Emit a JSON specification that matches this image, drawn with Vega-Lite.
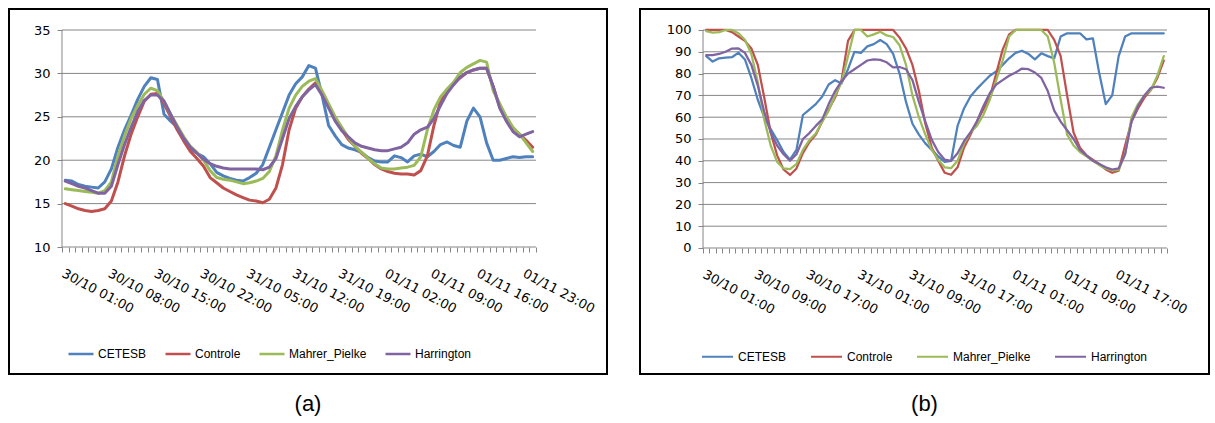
{
  "$schema": "https://vega.github.io/schema/vega-lite/v6.json",
  "background": "white",
  "padding": {"left": 8, "top": 8, "right": 0, "bottom": 0},
  "spacing": 31,
  "config": {
    "axis": {"labelOverlap": false, "labelFlush": false, "domain": false, "grid": false, "tickColor": "#868686", "tickSize": 5, "labelColor": "black", "labelFont": "DejaVu Sans", "title": null}
  },
  "datasets": {
    "tempA": [
      {"h":0,"CETESB":17.7,"Controle":15.0,"Mahrer_Pielke":16.7,"Harrington":17.6},
      {"h":1,"CETESB":17.6,"Controle":14.7,"Mahrer_Pielke":16.6,"Harrington":17.3},
      {"h":2,"CETESB":17.2,"Controle":14.4,"Mahrer_Pielke":16.5,"Harrington":17.0},
      {"h":3,"CETESB":17.0,"Controle":14.2,"Mahrer_Pielke":16.4,"Harrington":16.8},
      {"h":4,"CETESB":16.9,"Controle":14.1,"Mahrer_Pielke":16.3,"Harrington":16.5},
      {"h":5,"CETESB":16.8,"Controle":14.2,"Mahrer_Pielke":16.2,"Harrington":16.2},
      {"h":6,"CETESB":17.5,"Controle":14.4,"Mahrer_Pielke":16.5,"Harrington":16.2},
      {"h":7,"CETESB":19.0,"Controle":15.3,"Mahrer_Pielke":17.5,"Harrington":17.0},
      {"h":8,"CETESB":21.5,"Controle":17.5,"Mahrer_Pielke":20.5,"Harrington":19.5},
      {"h":9,"CETESB":23.5,"Controle":20.5,"Mahrer_Pielke":22.8,"Harrington":21.8},
      {"h":10,"CETESB":25.2,"Controle":23.0,"Mahrer_Pielke":24.8,"Harrington":23.8},
      {"h":11,"CETESB":27.0,"Controle":25.0,"Mahrer_Pielke":26.3,"Harrington":25.6},
      {"h":12,"CETESB":28.5,"Controle":26.8,"Mahrer_Pielke":27.6,"Harrington":26.9},
      {"h":13,"CETESB":29.5,"Controle":27.6,"Mahrer_Pielke":28.3,"Harrington":27.5},
      {"h":14,"CETESB":29.3,"Controle":27.7,"Mahrer_Pielke":28.0,"Harrington":27.5},
      {"h":15,"CETESB":25.3,"Controle":26.5,"Mahrer_Pielke":26.8,"Harrington":26.8},
      {"h":16,"CETESB":24.5,"Controle":25.0,"Mahrer_Pielke":25.3,"Harrington":25.3},
      {"h":17,"CETESB":23.8,"Controle":23.5,"Mahrer_Pielke":24.0,"Harrington":23.8},
      {"h":18,"CETESB":22.5,"Controle":22.2,"Mahrer_Pielke":22.7,"Harrington":22.5},
      {"h":19,"CETESB":21.3,"Controle":21.0,"Mahrer_Pielke":21.6,"Harrington":21.5},
      {"h":20,"CETESB":20.8,"Controle":20.2,"Mahrer_Pielke":20.9,"Harrington":20.8},
      {"h":21,"CETESB":20.4,"Controle":19.3,"Mahrer_Pielke":20.0,"Harrington":20.1},
      {"h":22,"CETESB":19.6,"Controle":18.0,"Mahrer_Pielke":18.8,"Harrington":19.6},
      {"h":23,"CETESB":18.6,"Controle":17.4,"Mahrer_Pielke":18.0,"Harrington":19.3},
      {"h":24,"CETESB":18.2,"Controle":16.8,"Mahrer_Pielke":17.8,"Harrington":19.1},
      {"h":25,"CETESB":17.9,"Controle":16.4,"Mahrer_Pielke":17.7,"Harrington":19.0},
      {"h":26,"CETESB":17.7,"Controle":16.0,"Mahrer_Pielke":17.5,"Harrington":19.0},
      {"h":27,"CETESB":17.6,"Controle":15.7,"Mahrer_Pielke":17.3,"Harrington":19.0},
      {"h":28,"CETESB":18.0,"Controle":15.4,"Mahrer_Pielke":17.4,"Harrington":19.0},
      {"h":29,"CETESB":18.5,"Controle":15.3,"Mahrer_Pielke":17.6,"Harrington":19.0},
      {"h":30,"CETESB":19.5,"Controle":15.1,"Mahrer_Pielke":17.9,"Harrington":18.9},
      {"h":31,"CETESB":21.5,"Controle":15.5,"Mahrer_Pielke":18.7,"Harrington":19.2},
      {"h":32,"CETESB":23.5,"Controle":16.8,"Mahrer_Pielke":20.5,"Harrington":20.2},
      {"h":33,"CETESB":25.5,"Controle":19.5,"Mahrer_Pielke":23.5,"Harrington":22.5},
      {"h":34,"CETESB":27.5,"Controle":23.5,"Mahrer_Pielke":26.0,"Harrington":24.8},
      {"h":35,"CETESB":28.8,"Controle":26.0,"Mahrer_Pielke":27.5,"Harrington":26.2},
      {"h":36,"CETESB":29.6,"Controle":27.3,"Mahrer_Pielke":28.5,"Harrington":27.3},
      {"h":37,"CETESB":30.9,"Controle":28.2,"Mahrer_Pielke":29.1,"Harrington":28.1},
      {"h":38,"CETESB":30.6,"Controle":28.9,"Mahrer_Pielke":29.4,"Harrington":28.7},
      {"h":39,"CETESB":27.5,"Controle":27.8,"Mahrer_Pielke":28.0,"Harrington":27.5},
      {"h":40,"CETESB":24.0,"Controle":26.3,"Mahrer_Pielke":26.5,"Harrington":26.0},
      {"h":41,"CETESB":22.8,"Controle":24.8,"Mahrer_Pielke":25.0,"Harrington":24.5},
      {"h":42,"CETESB":21.8,"Controle":23.5,"Mahrer_Pielke":23.8,"Harrington":23.4},
      {"h":43,"CETESB":21.4,"Controle":22.4,"Mahrer_Pielke":22.6,"Harrington":22.7},
      {"h":44,"CETESB":21.2,"Controle":21.6,"Mahrer_Pielke":21.6,"Harrington":22.0},
      {"h":45,"CETESB":20.9,"Controle":20.8,"Mahrer_Pielke":20.9,"Harrington":21.6},
      {"h":46,"CETESB":20.3,"Controle":20.2,"Mahrer_Pielke":20.2,"Harrington":21.4},
      {"h":47,"CETESB":19.9,"Controle":19.5,"Mahrer_Pielke":19.6,"Harrington":21.2},
      {"h":48,"CETESB":19.8,"Controle":19.0,"Mahrer_Pielke":19.1,"Harrington":21.1},
      {"h":49,"CETESB":19.8,"Controle":18.7,"Mahrer_Pielke":19.0,"Harrington":21.1},
      {"h":50,"CETESB":20.5,"Controle":18.5,"Mahrer_Pielke":19.0,"Harrington":21.3},
      {"h":51,"CETESB":20.3,"Controle":18.4,"Mahrer_Pielke":19.1,"Harrington":21.5},
      {"h":52,"CETESB":19.8,"Controle":18.4,"Mahrer_Pielke":19.2,"Harrington":22.0},
      {"h":53,"CETESB":20.5,"Controle":18.3,"Mahrer_Pielke":19.4,"Harrington":23.0},
      {"h":54,"CETESB":20.7,"Controle":18.8,"Mahrer_Pielke":20.4,"Harrington":23.5},
      {"h":55,"CETESB":20.4,"Controle":20.5,"Mahrer_Pielke":23.5,"Harrington":23.8},
      {"h":56,"CETESB":21.0,"Controle":24.0,"Mahrer_Pielke":25.8,"Harrington":24.8},
      {"h":57,"CETESB":21.8,"Controle":26.8,"Mahrer_Pielke":27.3,"Harrington":26.3},
      {"h":58,"CETESB":22.1,"Controle":28.0,"Mahrer_Pielke":28.2,"Harrington":27.7},
      {"h":59,"CETESB":21.7,"Controle":28.8,"Mahrer_Pielke":29.0,"Harrington":28.7},
      {"h":60,"CETESB":21.5,"Controle":29.5,"Mahrer_Pielke":30.1,"Harrington":29.6},
      {"h":61,"CETESB":24.5,"Controle":30.1,"Mahrer_Pielke":30.7,"Harrington":30.1},
      {"h":62,"CETESB":26.0,"Controle":30.4,"Mahrer_Pielke":31.1,"Harrington":30.4},
      {"h":63,"CETESB":25.0,"Controle":30.6,"Mahrer_Pielke":31.5,"Harrington":30.6},
      {"h":64,"CETESB":22.0,"Controle":30.6,"Mahrer_Pielke":31.3,"Harrington":30.6},
      {"h":65,"CETESB":20.0,"Controle":28.5,"Mahrer_Pielke":28.0,"Harrington":28.5},
      {"h":66,"CETESB":20.0,"Controle":26.1,"Mahrer_Pielke":26.5,"Harrington":26.0},
      {"h":67,"CETESB":20.2,"Controle":24.6,"Mahrer_Pielke":25.0,"Harrington":24.5},
      {"h":68,"CETESB":20.4,"Controle":23.7,"Mahrer_Pielke":23.8,"Harrington":23.3},
      {"h":69,"CETESB":20.3,"Controle":23.0,"Mahrer_Pielke":23.0,"Harrington":22.7},
      {"h":70,"CETESB":20.4,"Controle":22.3,"Mahrer_Pielke":22.0,"Harrington":23.0},
      {"h":71,"CETESB":20.4,"Controle":21.5,"Mahrer_Pielke":21.0,"Harrington":23.3}
    ],
    "rhB": [
      {"h":0,"CETESB":88,"Controle":100,"Mahrer_Pielke":99.5,"Harrington":88.5},
      {"h":1,"CETESB":85.5,"Controle":100,"Mahrer_Pielke":98.8,"Harrington":88.5},
      {"h":2,"CETESB":87,"Controle":100,"Mahrer_Pielke":99,"Harrington":89},
      {"h":3,"CETESB":87.3,"Controle":100,"Mahrer_Pielke":100,"Harrington":90},
      {"h":4,"CETESB":87.5,"Controle":99,"Mahrer_Pielke":100,"Harrington":91.5},
      {"h":5,"CETESB":89.6,"Controle":97,"Mahrer_Pielke":98.5,"Harrington":91.6},
      {"h":6,"CETESB":86.5,"Controle":95,"Mahrer_Pielke":95.5,"Harrington":89.5},
      {"h":7,"CETESB":78,"Controle":91.5,"Mahrer_Pielke":89,"Harrington":84},
      {"h":8,"CETESB":68,"Controle":84,"Mahrer_Pielke":76,"Harrington":74.5},
      {"h":9,"CETESB":60,"Controle":69,"Mahrer_Pielke":59,"Harrington":62.5},
      {"h":10,"CETESB":54.5,"Controle":53,"Mahrer_Pielke":47,"Harrington":53},
      {"h":11,"CETESB":49.5,"Controle":42.5,"Mahrer_Pielke":39.5,"Harrington":47},
      {"h":12,"CETESB":44,"Controle":36,"Mahrer_Pielke":36.5,"Harrington":43},
      {"h":13,"CETESB":40.5,"Controle":33.5,"Mahrer_Pielke":36.2,"Harrington":40},
      {"h":14,"CETESB":45,"Controle":36.5,"Mahrer_Pielke":38.5,"Harrington":43},
      {"h":15,"CETESB":61,"Controle":43.5,"Mahrer_Pielke":45,"Harrington":50},
      {"h":16,"CETESB":63.5,"Controle":48.5,"Mahrer_Pielke":49.5,"Harrington":52.7},
      {"h":17,"CETESB":66,"Controle":52,"Mahrer_Pielke":52.5,"Harrington":56},
      {"h":18,"CETESB":69.5,"Controle":58,"Mahrer_Pielke":58,"Harrington":59},
      {"h":19,"CETESB":75,"Controle":63.5,"Mahrer_Pielke":63,"Harrington":66},
      {"h":20,"CETESB":77,"Controle":69,"Mahrer_Pielke":70,"Harrington":72},
      {"h":21,"CETESB":75.5,"Controle":77,"Mahrer_Pielke":76,"Harrington":76.5},
      {"h":22,"CETESB":82,"Controle":95,"Mahrer_Pielke":88,"Harrington":80},
      {"h":23,"CETESB":90,"Controle":100,"Mahrer_Pielke":100,"Harrington":82},
      {"h":24,"CETESB":89.5,"Controle":100,"Mahrer_Pielke":100,"Harrington":84},
      {"h":25,"CETESB":92.5,"Controle":100,"Mahrer_Pielke":97,"Harrington":86},
      {"h":26,"CETESB":93.5,"Controle":100,"Mahrer_Pielke":98,"Harrington":86.5},
      {"h":27,"CETESB":95.4,"Controle":100,"Mahrer_Pielke":99.2,"Harrington":86.3},
      {"h":28,"CETESB":93.5,"Controle":100,"Mahrer_Pielke":97.5,"Harrington":85.2},
      {"h":29,"CETESB":89,"Controle":100,"Mahrer_Pielke":96.8,"Harrington":82.8},
      {"h":30,"CETESB":80,"Controle":96.5,"Mahrer_Pielke":93,"Harrington":83},
      {"h":31,"CETESB":67,"Controle":91.5,"Mahrer_Pielke":84,"Harrington":82},
      {"h":32,"CETESB":57,"Controle":84,"Mahrer_Pielke":70,"Harrington":77},
      {"h":33,"CETESB":52,"Controle":72,"Mahrer_Pielke":60,"Harrington":67},
      {"h":34,"CETESB":48,"Controle":57,"Mahrer_Pielke":52,"Harrington":58},
      {"h":35,"CETESB":45,"Controle":46,"Mahrer_Pielke":45,"Harrington":49.6},
      {"h":36,"CETESB":42,"Controle":40,"Mahrer_Pielke":40.5,"Harrington":44},
      {"h":37,"CETESB":39.5,"Controle":34.5,"Mahrer_Pielke":37,"Harrington":40.5},
      {"h":38,"CETESB":40,"Controle":33.6,"Mahrer_Pielke":36.6,"Harrington":40},
      {"h":39,"CETESB":56,"Controle":37,"Mahrer_Pielke":40,"Harrington":43.5},
      {"h":40,"CETESB":64,"Controle":46,"Mahrer_Pielke":48,"Harrington":49},
      {"h":41,"CETESB":69.5,"Controle":52,"Mahrer_Pielke":53,"Harrington":53},
      {"h":42,"CETESB":73,"Controle":58,"Mahrer_Pielke":56,"Harrington":58},
      {"h":43,"CETESB":76,"Controle":63.5,"Mahrer_Pielke":61,"Harrington":65},
      {"h":44,"CETESB":79,"Controle":69,"Mahrer_Pielke":68,"Harrington":71},
      {"h":45,"CETESB":81,"Controle":80,"Mahrer_Pielke":77,"Harrington":75},
      {"h":46,"CETESB":84,"Controle":91,"Mahrer_Pielke":86,"Harrington":77},
      {"h":47,"CETESB":87,"Controle":98,"Mahrer_Pielke":97,"Harrington":79},
      {"h":48,"CETESB":89.5,"Controle":100,"Mahrer_Pielke":100,"Harrington":80.5},
      {"h":49,"CETESB":90.5,"Controle":100,"Mahrer_Pielke":100,"Harrington":82.3},
      {"h":50,"CETESB":89,"Controle":100,"Mahrer_Pielke":100,"Harrington":82},
      {"h":51,"CETESB":86.5,"Controle":100,"Mahrer_Pielke":100,"Harrington":80.5},
      {"h":52,"CETESB":89.3,"Controle":100,"Mahrer_Pielke":100,"Harrington":78},
      {"h":53,"CETESB":88,"Controle":100,"Mahrer_Pielke":97,"Harrington":72},
      {"h":54,"CETESB":87,"Controle":95.5,"Mahrer_Pielke":85,"Harrington":63},
      {"h":55,"CETESB":97,"Controle":88,"Mahrer_Pielke":68,"Harrington":58},
      {"h":56,"CETESB":98.5,"Controle":70,"Mahrer_Pielke":52,"Harrington":54},
      {"h":57,"CETESB":98.5,"Controle":53,"Mahrer_Pielke":47,"Harrington":50},
      {"h":58,"CETESB":98.5,"Controle":46,"Mahrer_Pielke":44,"Harrington":45},
      {"h":59,"CETESB":95.7,"Controle":42.5,"Mahrer_Pielke":42,"Harrington":42.5},
      {"h":60,"CETESB":96.2,"Controle":40.5,"Mahrer_Pielke":40,"Harrington":40},
      {"h":61,"CETESB":80,"Controle":38.5,"Mahrer_Pielke":38,"Harrington":38.5},
      {"h":62,"CETESB":66,"Controle":36,"Mahrer_Pielke":36.5,"Harrington":37},
      {"h":63,"CETESB":70,"Controle":34.5,"Mahrer_Pielke":35.6,"Harrington":36},
      {"h":64,"CETESB":88,"Controle":35.5,"Mahrer_Pielke":35.8,"Harrington":36.5},
      {"h":65,"CETESB":97,"Controle":47,"Mahrer_Pielke":43,"Harrington":43},
      {"h":66,"CETESB":98.5,"Controle":58,"Mahrer_Pielke":60,"Harrington":58},
      {"h":67,"CETESB":98.5,"Controle":64,"Mahrer_Pielke":66,"Harrington":65},
      {"h":68,"CETESB":98.5,"Controle":69,"Mahrer_Pielke":70,"Harrington":70},
      {"h":69,"CETESB":98.5,"Controle":72.5,"Mahrer_Pielke":72.5,"Harrington":73.5},
      {"h":70,"CETESB":98.5,"Controle":78,"Mahrer_Pielke":79,"Harrington":74},
      {"h":71,"CETESB":98.5,"Controle":86,"Mahrer_Pielke":88,"Harrington":73.5}
    ],
    "gridA": [{"v":10},{"v":15},{"v":20},{"v":25},{"v":30},{"v":35}],
    "gridB": [{"v":0},{"v":10},{"v":20},{"v":30},{"v":40},{"v":50},{"v":60},{"v":70},{"v":80},{"v":90},{"v":100}],
    "one": [{"k":1}]
  },
  "hconcat": [
    {
      "width": 598,
      "height": 365,
      "view": {"stroke": "black", "strokeWidth": 2},
      "title": {"text": "(a)", "orient": "bottom", "anchor": "middle", "fontSize": 22, "font": "Liberation Sans", "fontWeight": "normal", "color": "black", "offset": 20},
      "layer": [
        {
          "data": {"name": "gridA"},
          "mark": {"type": "rule", "color": "#868686", "strokeWidth": 1},
          "encoding": {
            "y": {"field": "v", "type": "quantitative", "scale": {"domain": [-4.63, 37.42], "nice": false, "zero": false},
              "axis": {"values": [10,15,20,25,30,35], "offset": -53, "labelPadding": 7, "labelFontSize": 13, "labelOverlap": false}},
            "x": {"datum": -0.5, "type": "quantitative", "scale": {"domain": [-8.551, 82.29], "nice": false, "zero": false},
              "axis": {"values": [-0.5,0.5,1.5,2.5,3.5,4.5,5.5,6.5,7.5,8.5,9.5,10.5,11.5,12.5,13.5,14.5,15.5,16.5,17.5,18.5,19.5,20.5,21.5,22.5,23.5,24.5,25.5,26.5,27.5,28.5,29.5,30.5,31.5,32.5,33.5,34.5,35.5,36.5,37.5,38.5,39.5,40.5,41.5,42.5,43.5,44.5,45.5,46.5,47.5,48.5,49.5,50.5,51.5,52.5,53.5,54.5,55.5,56.5,57.5,58.5,59.5,60.5,61.5,62.5,63.5,64.5,65.5,66.5,67.5,68.5,69.5,70.5,71.5,0,7,14,21,28,35,42,49,56,63,70],
                "offset": -127,
                "tickOpacity": {"condition": {"test": "datum.value % 1 != 0", "value": 1}, "value": 0},
                "labelExpr": "datum.value % 1 == 0 ? timeFormat(datetime(2011, 9, 30, 1 + datum.value, 0), '%d/%m %H:%M') : ''",
                "labelAngle": 28, "labelAlign": "left", "labelBaseline": "top", "labelPadding": 15,
                "labelOverlap": false, "labelFontSize": 13}},
            "x2": {"datum": 71.5}
          }
        },
        {
          "data": {"name": "one"},
          "mark": {"type": "rule", "color": "#868686", "strokeWidth": 1},
          "encoding": {
            "x": {"datum": -0.5, "type": "quantitative", "scale": {"domain": [-8.551, 82.29], "nice": false, "zero": false},
              "axis": {"values": [-0.5,0.5,1.5,2.5,3.5,4.5,5.5,6.5,7.5,8.5,9.5,10.5,11.5,12.5,13.5,14.5,15.5,16.5,17.5,18.5,19.5,20.5,21.5,22.5,23.5,24.5,25.5,26.5,27.5,28.5,29.5,30.5,31.5,32.5,33.5,34.5,35.5,36.5,37.5,38.5,39.5,40.5,41.5,42.5,43.5,44.5,45.5,46.5,47.5,48.5,49.5,50.5,51.5,52.5,53.5,54.5,55.5,56.5,57.5,58.5,59.5,60.5,61.5,62.5,63.5,64.5,65.5,66.5,67.5,68.5,69.5,70.5,71.5,0,7,14,21,28,35,42,49,56,63,70],
                "offset": -127,
                "tickOpacity": {"condition": {"test": "datum.value % 1 != 0", "value": 1}, "value": 0},
                "labelExpr": "datum.value % 1 == 0 ? timeFormat(datetime(2011, 9, 30, 1 + datum.value, 0), '%d/%m %H:%M') : ''",
                "labelAngle": 28, "labelAlign": "left", "labelBaseline": "top", "labelPadding": 15,
                "labelOverlap": false, "labelFontSize": 13}},
            "y": {"datum": 10, "type": "quantitative", "scale": {"domain": [-4.63, 37.42], "nice": false, "zero": false},
              "axis": {"values": [10,15,20,25,30,35], "offset": -53, "labelPadding": 7, "labelFontSize": 13, "labelOverlap": false}},
            "y2": {"datum": 35}
          }
        },
        {
          "data": {"name": "tempA"},
          "transform": [{"fold": ["CETESB", "Controle", "Mahrer_Pielke", "Harrington"], "as": ["serie", "valor"]}],
          "mark": {"type": "line", "strokeWidth": 3, "strokeJoin": "round", "strokeCap": "round"},
          "encoding": {
            "x": {"field": "h", "type": "quantitative", "scale": {"domain": [-8.551, 82.29], "nice": false, "zero": false},
              "axis": {"values": [-0.5,0.5,1.5,2.5,3.5,4.5,5.5,6.5,7.5,8.5,9.5,10.5,11.5,12.5,13.5,14.5,15.5,16.5,17.5,18.5,19.5,20.5,21.5,22.5,23.5,24.5,25.5,26.5,27.5,28.5,29.5,30.5,31.5,32.5,33.5,34.5,35.5,36.5,37.5,38.5,39.5,40.5,41.5,42.5,43.5,44.5,45.5,46.5,47.5,48.5,49.5,50.5,51.5,52.5,53.5,54.5,55.5,56.5,57.5,58.5,59.5,60.5,61.5,62.5,63.5,64.5,65.5,66.5,67.5,68.5,69.5,70.5,71.5,0,7,14,21,28,35,42,49,56,63,70],
                "offset": -127,
                "tickOpacity": {"condition": {"test": "datum.value % 1 != 0", "value": 1}, "value": 0},
                "labelExpr": "datum.value % 1 == 0 ? timeFormat(datetime(2011, 9, 30, 1 + datum.value, 0), '%d/%m %H:%M') : ''",
                "labelAngle": 28, "labelAlign": "left", "labelBaseline": "top", "labelPadding": 15,
                "labelOverlap": false, "labelFontSize": 13}},
            "y": {"field": "valor", "type": "quantitative", "scale": {"domain": [-4.63, 37.42], "nice": false, "zero": false},
              "axis": {"values": [10,15,20,25,30,35], "offset": -53, "labelPadding": 7, "labelFontSize": 13, "labelOverlap": false}},
            "color": {"field": "serie", "type": "nominal",
              "scale": {"domain": ["CETESB", "Controle", "Mahrer_Pielke", "Harrington"], "range": ["#4F81BD", "#C0504D", "#9BBB59", "#8064A2"]},
              "legend": {"orient": "none", "legendX": 58, "legendY": 331, "direction": "horizontal", "title": null,
                "symbolType": "stroke", "symbolSize": 625, "symbolStrokeWidth": 2.5, "labelFont": "Liberation Sans", "labelFontSize": 12, "labelColor": "black", "columnPadding": 13, "labelOffset": 3}}
          }
        }
      ]
    },
    {
      "width": 569,
      "height": 365,
      "view": {"stroke": "black", "strokeWidth": 2},
      "title": {"text": "(b)", "orient": "bottom", "anchor": "middle", "fontSize": 22, "font": "Liberation Sans", "fontWeight": "normal", "color": "black", "offset": 20},
      "layer": [
        {
          "data": {"name": "gridB"},
          "mark": {"type": "rule", "color": "#868686", "strokeWidth": 1},
          "encoding": {
            "y": {"field": "v", "type": "quantitative", "scale": {"domain": [-57.8, 109.63], "nice": false, "zero": false},
              "axis": {"values": [0,10,20,30,40,50,60,70,80,90,100], "offset": -63, "labelPadding": 7, "labelFontSize": 13, "labelOverlap": false}},
            "x": {"datum": -0.5, "type": "quantitative", "scale": {"domain": [-10.28, 78.02], "nice": false, "zero": false},
              "axis": {"values": [-0.5,0.5,1.5,2.5,3.5,4.5,5.5,6.5,7.5,8.5,9.5,10.5,11.5,12.5,13.5,14.5,15.5,16.5,17.5,18.5,19.5,20.5,21.5,22.5,23.5,24.5,25.5,26.5,27.5,28.5,29.5,30.5,31.5,32.5,33.5,34.5,35.5,36.5,37.5,38.5,39.5,40.5,41.5,42.5,43.5,44.5,45.5,46.5,47.5,48.5,49.5,50.5,51.5,52.5,53.5,54.5,55.5,56.5,57.5,58.5,59.5,60.5,61.5,62.5,63.5,64.5,65.5,66.5,67.5,68.5,69.5,70.5,71.5,0,8,16,24,32,40,48,56,64],
                "offset": -126,
                "tickOpacity": {"condition": {"test": "datum.value % 1 != 0", "value": 1}, "value": 0},
                "labelExpr": "datum.value % 1 == 0 ? timeFormat(datetime(2011, 9, 30, 1 + datum.value, 0), '%d/%m %H:%M') : ''",
                "labelAngle": 28, "labelAlign": "left", "labelBaseline": "top", "labelPadding": 15,
                "labelOverlap": false, "labelFontSize": 13}},
            "x2": {"datum": 71.5}
          }
        },
        {
          "data": {"name": "one"},
          "mark": {"type": "rule", "color": "#868686", "strokeWidth": 1},
          "encoding": {
            "x": {"datum": -0.5, "type": "quantitative", "scale": {"domain": [-10.28, 78.02], "nice": false, "zero": false},
              "axis": {"values": [-0.5,0.5,1.5,2.5,3.5,4.5,5.5,6.5,7.5,8.5,9.5,10.5,11.5,12.5,13.5,14.5,15.5,16.5,17.5,18.5,19.5,20.5,21.5,22.5,23.5,24.5,25.5,26.5,27.5,28.5,29.5,30.5,31.5,32.5,33.5,34.5,35.5,36.5,37.5,38.5,39.5,40.5,41.5,42.5,43.5,44.5,45.5,46.5,47.5,48.5,49.5,50.5,51.5,52.5,53.5,54.5,55.5,56.5,57.5,58.5,59.5,60.5,61.5,62.5,63.5,64.5,65.5,66.5,67.5,68.5,69.5,70.5,71.5,0,8,16,24,32,40,48,56,64],
                "offset": -126,
                "tickOpacity": {"condition": {"test": "datum.value % 1 != 0", "value": 1}, "value": 0},
                "labelExpr": "datum.value % 1 == 0 ? timeFormat(datetime(2011, 9, 30, 1 + datum.value, 0), '%d/%m %H:%M') : ''",
                "labelAngle": 28, "labelAlign": "left", "labelBaseline": "top", "labelPadding": 15,
                "labelOverlap": false, "labelFontSize": 13}},
            "y": {"datum": 0, "type": "quantitative", "scale": {"domain": [-57.8, 109.63], "nice": false, "zero": false},
              "axis": {"values": [0,10,20,30,40,50,60,70,80,90,100], "offset": -63, "labelPadding": 7, "labelFontSize": 13, "labelOverlap": false}},
            "y2": {"datum": 100}
          }
        },
        {
          "data": {"name": "rhB"},
          "transform": [{"fold": ["CETESB", "Controle", "Mahrer_Pielke", "Harrington"], "as": ["serie", "valor"]}],
          "mark": {"type": "line", "strokeWidth": 2.25, "strokeJoin": "round", "strokeCap": "round"},
          "encoding": {
            "x": {"field": "h", "type": "quantitative", "scale": {"domain": [-10.28, 78.02], "nice": false, "zero": false},
              "axis": {"values": [-0.5,0.5,1.5,2.5,3.5,4.5,5.5,6.5,7.5,8.5,9.5,10.5,11.5,12.5,13.5,14.5,15.5,16.5,17.5,18.5,19.5,20.5,21.5,22.5,23.5,24.5,25.5,26.5,27.5,28.5,29.5,30.5,31.5,32.5,33.5,34.5,35.5,36.5,37.5,38.5,39.5,40.5,41.5,42.5,43.5,44.5,45.5,46.5,47.5,48.5,49.5,50.5,51.5,52.5,53.5,54.5,55.5,56.5,57.5,58.5,59.5,60.5,61.5,62.5,63.5,64.5,65.5,66.5,67.5,68.5,69.5,70.5,71.5,0,8,16,24,32,40,48,56,64],
                "offset": -126,
                "tickOpacity": {"condition": {"test": "datum.value % 1 != 0", "value": 1}, "value": 0},
                "labelExpr": "datum.value % 1 == 0 ? timeFormat(datetime(2011, 9, 30, 1 + datum.value, 0), '%d/%m %H:%M') : ''",
                "labelAngle": 28, "labelAlign": "left", "labelBaseline": "top", "labelPadding": 15,
                "labelOverlap": false, "labelFontSize": 13}},
            "y": {"field": "valor", "type": "quantitative", "scale": {"domain": [-57.8, 109.63], "nice": false, "zero": false},
              "axis": {"values": [0,10,20,30,40,50,60,70,80,90,100], "offset": -63, "labelPadding": 7, "labelFontSize": 13, "labelOverlap": false}},
            "color": {"field": "serie", "type": "nominal",
              "scale": {"domain": ["CETESB", "Controle", "Mahrer_Pielke", "Harrington"], "range": ["#4F81BD", "#C0504D", "#9BBB59", "#8064A2"]},
              "legend": {"orient": "none", "legendX": 61, "legendY": 331, "direction": "horizontal", "title": null,
                "symbolType": "stroke", "symbolSize": 961, "symbolStrokeWidth": 2, "labelFont": "Liberation Sans", "labelFontSize": 12, "labelColor": "black", "columnPadding": 20, "labelOffset": 4}}
          }
        }
      ]
    }
  ],
  "resolve": {"scale": {"x": "independent", "y": "independent", "color": "independent"}, "legend": {"color": "independent"}, "axis": {"x": "independent", "y": "independent"}}
}
